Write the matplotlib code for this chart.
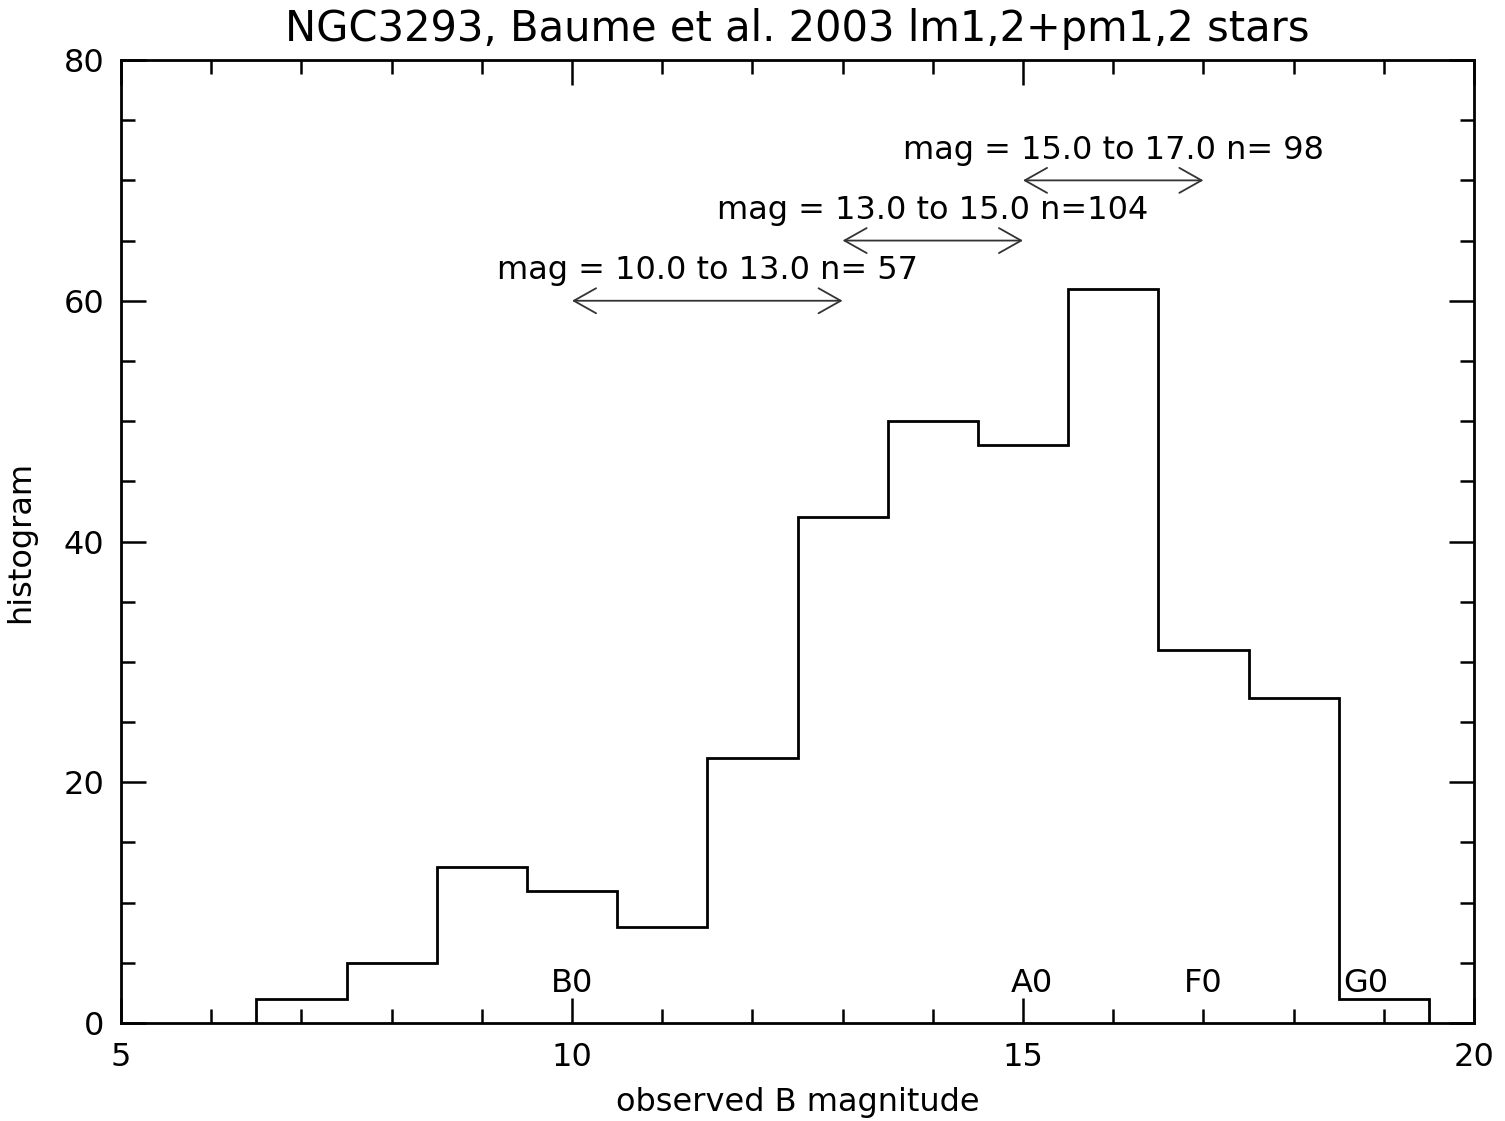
import matplotlib
matplotlib.use("Agg")
import matplotlib.pyplot as plt
import numpy as np
from matplotlib.ticker import MultipleLocator

# Data
bin_edges = [6.5, 7.5, 8.5, 9.5, 10.5, 11.5, 12.5, 13.5, 14.5, 15.5, 16.5, 17.5, 18.5, 19.5]
counts = [2, 5, 13, 11, 8, 22, 42, 50, 48, 61, 31, 27, 2]

ranges = [(10.0, 13.0), (13.0, 15.0), (15.0, 17.0)]
range_y = [60, 65, 70]
range_labels = ["mag = 10.0 to 13.0 n= 57",
                "mag = 13.0 to 15.0 n=104",
                "mag = 15.0 to 17.0 n= 98"]

spec_types = ["B0", "A0", "F0", "G0"]
spec_mag = [10.0, 15.1, 17.0, 18.8]

title = "NGC3293, Baume et al. 2003 lm1,2+pm1,2 stars"

fig = plt.figure(figsize=(15.05, 11.21), dpi=100)
ax = fig.add_axes([121/1505, 1-1023/1121, (1474-121)/1505, (1023-60)/1121])

ax.stairs(counts, bin_edges, color='black', lw=2.0, baseline=0)

for (a, b), y, lab in zip(ranges, range_y, range_labels):
    ax.annotate('', xy=(a, y), xytext=(b, y),
                arrowprops=dict(arrowstyle='<->,head_length=0.8,head_width=0.45',
                                mutation_scale=20, lw=1.3, color='#333333',
                                shrinkA=0, shrinkB=0))
    ax.text((a + b) / 2, y + 2.5, lab, ha='center', va='center', fontsize=23)

for s, m in zip(spec_types, spec_mag):
    ax.text(m, 3.3, s, ha='center', va='center', fontsize=23)

ax.set_xlim(5, 20)
ax.set_ylim(0, 80)
ax.xaxis.set_major_locator(MultipleLocator(5))
ax.xaxis.set_minor_locator(MultipleLocator(1))
ax.yaxis.set_major_locator(MultipleLocator(20))
ax.yaxis.set_minor_locator(MultipleLocator(5))
ax.tick_params(which='both', direction='in', top=True, right=True, width=1.8, labelsize=23)
ax.tick_params(which='major', length=18)
ax.tick_params(which='minor', length=10)
ax.tick_params(axis='x', pad=14)
ax.tick_params(axis='y', pad=12)
for sp in ax.spines.values():
    sp.set_linewidth(2.0)

ax.set_xlabel("observed B magnitude", fontsize=23, labelpad=10)
ax.set_ylabel("histogram", fontsize=23, labelpad=20)
ax.set_title(title, fontsize=30, pad=14)

fig.savefig("out.png", dpi=100)
